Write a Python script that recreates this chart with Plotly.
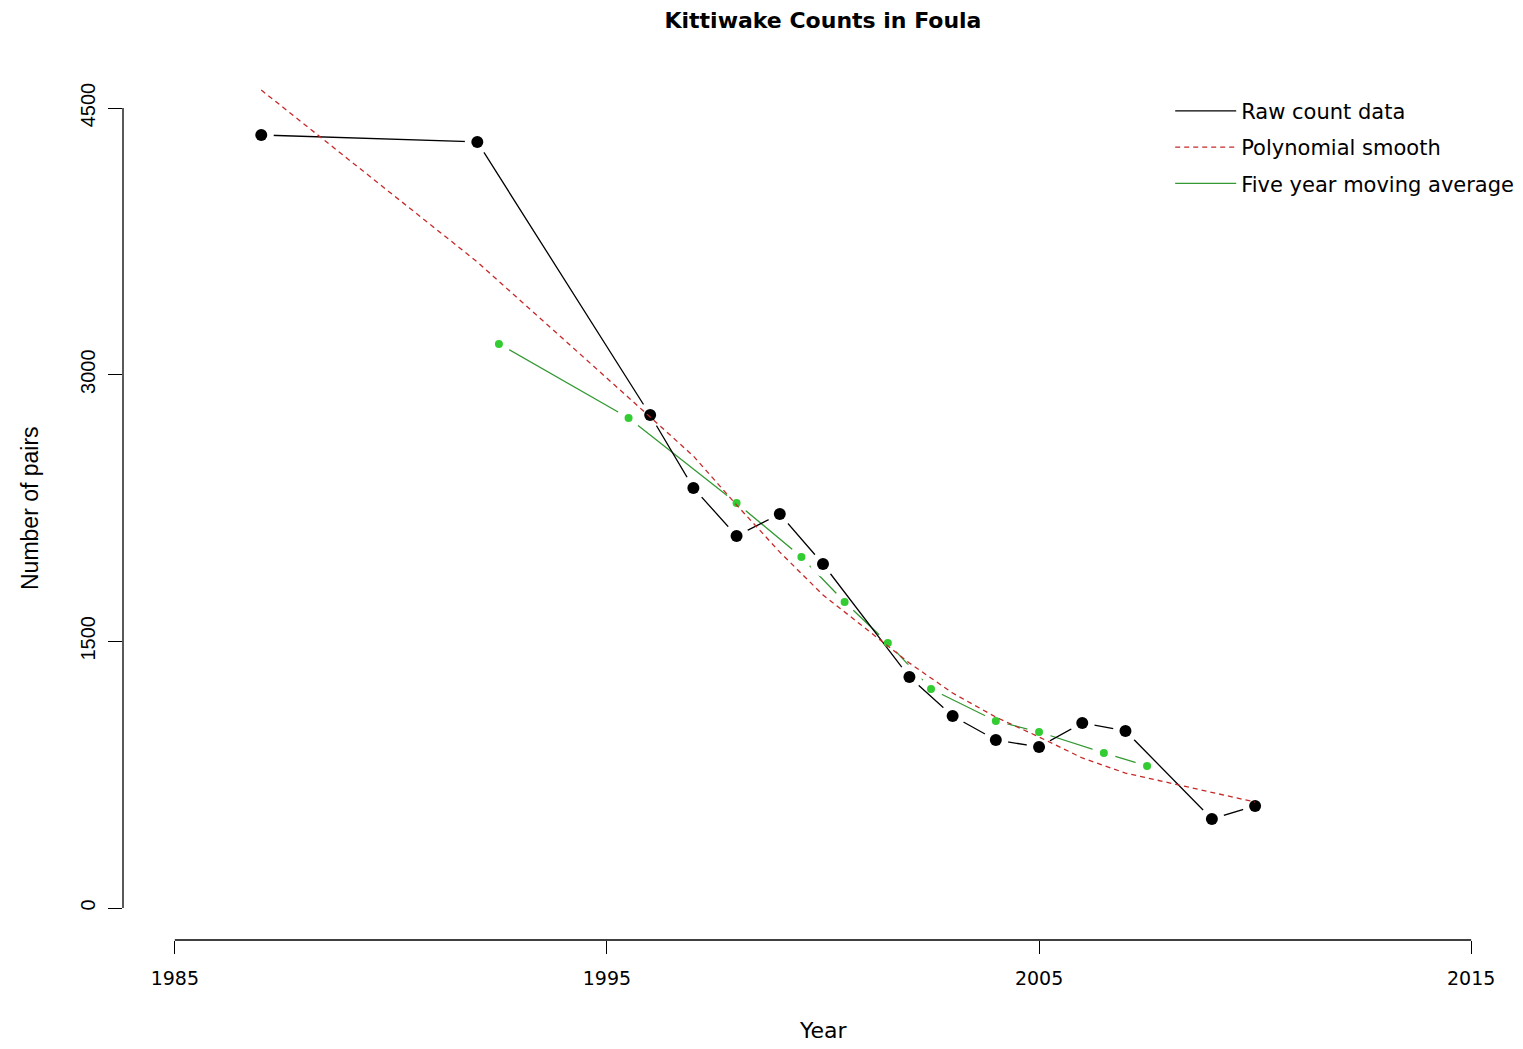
import plotly.graph_objects as go

# raw colony counts
raw_years = [1987, 1992, 1996, 1997, 1998, 1999, 2000, 2002, 2003, 2004, 2005, 2006, 2007, 2009, 2010]
raw_pairs = [4348, 4309, 2773, 2363, 2093, 2216, 1935, 1299, 1080, 945, 906, 1041, 996, 501, 574]

# fitted polynomial at the count years
poly_pairs = [4601, 3634, 2762, 2542, 2267, 2002, 1761, 1378, 1209, 1074, 962, 844, 759, 652, 596]

# five year moving average
ma_years = [1992.5, 1995.5, 1998, 1999.5, 2000.5, 2001.5, 2002.5, 2004, 2005, 2006.5, 2007.5]
ma_pairs = [3173, 2756, 2278, 1974, 1721, 1491, 1232, 1052, 990, 872, 799]

x_ticks = [1985, 1995, 2005, 2015]
y_ticks = [0, 1500, 3000, 4500]

GREEN_LINE = '#339933'
GREEN_PT = '#33cc33'
RED = '#c62828'

fig = go.Figure()

# green moving average line (under the black so black halos don't cut it much)
fig.add_trace(go.Scatter(x=ma_years, y=ma_pairs, mode='lines', name='Five year moving average',
                         line=dict(color=GREEN_LINE, width=1.3), legendgroup='c', legendrank=3))
fig.add_trace(go.Scatter(x=ma_years, y=ma_pairs, mode='markers', showlegend=False,
                         marker=dict(color='white', size=24), hoverinfo='skip'))

# raw data line, type="b" style with gaps around the points
fig.add_trace(go.Scatter(x=raw_years, y=raw_pairs, mode='lines', name='Raw count data',
                         line=dict(color='black', width=1.3), legendgroup='a', legendrank=1))
fig.add_trace(go.Scatter(x=raw_years, y=raw_pairs, mode='markers', showlegend=False,
                         marker=dict(color='white', size=25), hoverinfo='skip'))
fig.add_trace(go.Scatter(x=raw_years, y=raw_pairs, mode='markers', showlegend=False,
                         marker=dict(color='black', size=12)))
fig.add_trace(go.Scatter(x=ma_years, y=ma_pairs, mode='markers', showlegend=False,
                         marker=dict(color=GREEN_PT, size=8)))

# polynomial smooth
fig.add_trace(go.Scatter(x=raw_years, y=poly_pairs, mode='lines', name='Polynomial smooth',
                         line=dict(color=RED, width=1.3, dash='5px,4px'), legendgroup='b', legendrank=2))

# R style detached axis lines
fig.add_shape(type='line', xref='x', yref='paper', x0=x_ticks[0], x1=x_ticks[-1], y0=0, y1=0,
              line=dict(color='black', width=1.3))
fig.add_shape(type='line', xref='paper', yref='y', x0=0, x1=0, y0=y_ticks[0], y1=y_ticks[-1],
              line=dict(color='black', width=1.3))

fig.update_xaxes(range=[1983.8, 2016.2], tickvals=x_ticks, ticks='outside', ticklen=13,
                 tickwidth=1.3, tickcolor='black', showgrid=False, zeroline=False, showline=False,
                 ticklabelstandoff=8,
                 tickfont=dict(family='DejaVu Sans', size=19, color='black'))
fig.update_yaxes(range=[-180, 4680], tickvals=y_ticks, ticks='outside', ticklen=14,
                 tickwidth=1.3, tickcolor='black', showgrid=False, zeroline=False, showline=False,
                 tickangle=-90, ticklabelstandoff=5,
                 tickfont=dict(family='Liberation Sans', size=20, color='black'))

fig.add_annotation(text='Year', xref='paper', yref='paper', x=0.5, y=-90 / 864,
                   showarrow=False, yanchor='middle', font=dict(family='DejaVu Sans', size=22, color='black'))
fig.add_annotation(text='Number of pairs', xref='paper', yref='paper', x=-93 / 1400, y=0.5,
                   showarrow=False, textangle=-90, xanchor='center',
                   font=dict(family='Liberation Sans', size=23, color='black'))

# page body has an 8px margin, so the figure is 8px smaller than the window
fig.update_layout(
    width=1515, height=1041,
    margin=dict(l=115, r=0, t=68, b=109),
    paper_bgcolor='white', plot_bgcolor='white',
    title=dict(text='<b>Kittiwake Counts in Foula</b>', x=0.5, xref='paper', y=1 - 12 / 1041,
               yanchor='middle', font=dict(family='DejaVu Sans', size=22, color='black')),
    legend=dict(x=0.748, y=0.983, xanchor='left', yanchor='top', bgcolor='rgba(0,0,0,0)',
                itemwidth=61, tracegroupgap=6, font=dict(family='DejaVu Sans', size=21, color='black')),
    showlegend=True,
)

fig.write_html('out.html')
